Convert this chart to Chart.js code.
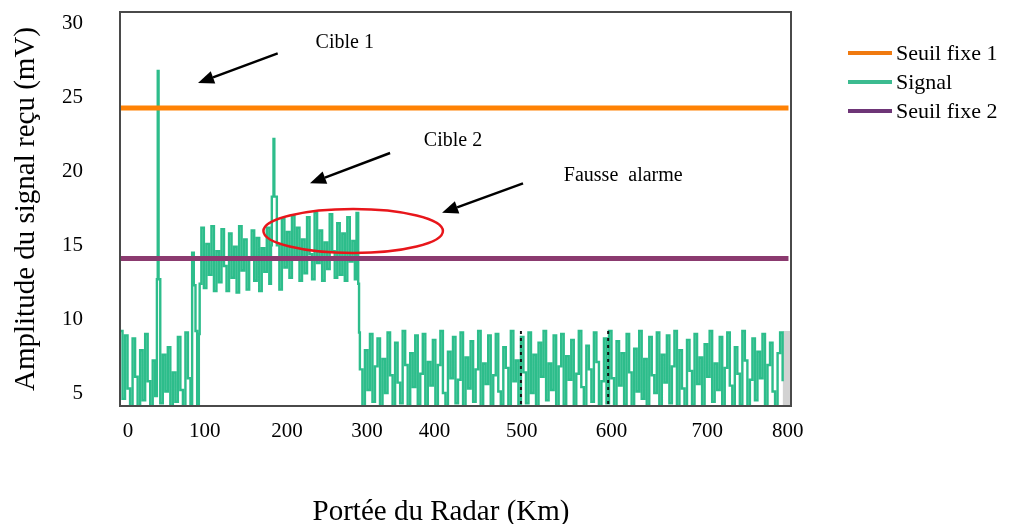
<!DOCTYPE html>
<html>
<head>
<meta charset="utf-8">
<script src="https://cdn.jsdelivr.net/npm/chart.js@4.4.0/dist/chart.umd.min.js"></script>
<style>
  html, body { margin: 0; padding: 0; background: #fff; }
</style>
</head>
<body>
<canvas id="radar" width="1012" height="524"></canvas>
<script>
// axis ticks (labels sit where the original figure put them)
const xTickLabels = ['0', '100', '200', '300', '400', '500', '600', '700', '800'];
const xTickAt = [9.5, 101, 199, 294.5, 375, 479, 586, 700, 796];
const yTicks = [5, 10, 15, 20, 25, 30];

// fixed thresholds
const thresholdKm = [0, 797];
const seuilFixe1 = [24.3, 24.3];
const seuilFixe2 = [14.1, 14.1];

// received signal (km, mV)
const rangeKm = [
  0, 3, 6, 9, 12, 15, 18, 21, 24, 27, 30, 33, 36, 39, 42, 44, 45, 46, 48, 51,
  54, 57, 60, 63, 66, 69, 72, 75, 78, 81, 84, 86, 88, 90, 92, 94, 95,
  97, 100, 103, 106, 109, 112, 115, 118, 121, 124, 127, 130, 133, 136, 139,
  142, 145, 148, 151, 154, 157, 160, 163, 166, 169, 172, 175, 178,
  180, 181, 183, 184, 187,
  190, 193, 196, 199, 202, 205, 208, 211, 214, 217, 220, 223, 226, 229, 232,
  235, 238, 241, 244, 247, 250, 253, 256, 259, 262, 265, 268, 271, 274, 277,
  280, 282, 284, 285,
  286, 289, 292, 295, 298, 301, 304, 307, 310, 313,
  316, 319, 322, 325, 328, 331, 334, 337, 340, 343,
  346, 349, 352, 355, 358, 361, 364, 367, 370, 373,
  376, 379, 382, 385, 388, 391, 394, 397, 400, 403,
  406, 409, 412, 415, 418, 421, 424, 427, 430, 433,
  436, 439, 442, 445, 448, 451, 454, 457, 460, 463,
  466, 469, 472, 475, 478, 481, 484, 487, 490, 493,
  496, 499, 502, 505, 508, 511, 514, 517, 520, 523,
  526, 529, 532, 535, 538, 541, 544, 547, 550, 553,
  556, 559, 562, 565, 568, 571, 574, 577, 580, 583,
  586, 589, 592, 595, 598, 601, 604, 607, 610, 613,
  616, 619, 622, 625, 628, 631, 634, 637, 640, 643,
  646, 649, 652, 655, 658, 661, 664, 667, 670, 673,
  676, 679, 682, 685, 688, 691, 694, 697, 700, 703,
  706, 709, 712, 715, 718, 721, 724, 727, 730, 733,
  736, 739, 742, 745, 748, 751, 754, 757, 760, 763,
  766, 769, 772, 775, 778, 781, 784, 787, 790
];
const signalMv = [
  9.2, 4.6, 8.9, 5.3, 4.1, 8.7, 6.1, 4.1, 7.9, 4.5, 9.0, 5.8, 4.1, 7.2, 4.8, 12.7, 26.8, 12.7, 4.3, 7.6,
  5.1, 8.1, 4.1, 6.4, 4.4, 8.8, 5.2, 4.1, 9.1, 6.0, 4.1, 14.5, 12.3, 9.2, 4.1, 9.0, 12.4,
  16.2, 12.1, 15.1, 13.0, 16.3, 11.9, 14.6, 12.5, 16.1, 13.6, 11.9, 15.8, 12.8, 14.9, 11.8,
  16.3, 13.3, 15.4, 12.0, 14.2, 16.0, 12.6, 15.5, 11.9, 14.8, 13.2, 16.2, 12.4,
  15.0, 18.3, 22.2, 18.3, 15.0,
  12.0, 16.8, 13.5, 15.9, 12.8, 17.0, 14.1, 16.2, 12.6, 15.4, 13.1, 16.9, 14.4, 12.7, 17.2,
  13.8, 16.0, 12.6, 15.2, 13.4, 17.1, 14.6, 12.8, 16.5, 13.0, 15.8, 12.6, 16.9, 13.9, 15.3,
  12.7, 17.2, 12.4, 9.1,
  6.6, 4.1, 7.9, 5.2, 9.0, 4.4, 6.8, 8.7, 4.1, 7.3,
  5.0, 9.1, 6.2, 4.1, 8.4, 5.7, 4.3, 9.2, 6.9, 4.1,
  7.7, 5.4, 8.9, 4.2, 6.3, 9.0, 4.1, 7.1, 5.5, 8.6,
  4.1, 6.9, 9.2, 5.0, 4.1, 7.8, 6.0, 8.8, 4.3, 5.9,
  9.1, 4.1, 7.4, 5.3, 8.5, 4.4, 6.6, 9.2, 4.1, 7.0,
  5.6, 8.9, 4.1, 6.2, 9.0, 5.1, 4.2, 8.1, 6.7, 4.1,
  9.2, 5.8, 7.2, 4.1, 8.8, 6.4, 4.3, 9.1, 5.0, 7.6,
  4.1, 8.4, 6.1, 9.2, 4.5, 7.0, 5.2, 8.9, 4.1, 6.8,
  9.0, 4.2, 7.5, 5.9, 8.6, 4.1, 6.3, 9.2, 5.4, 4.1,
  8.2, 6.6, 4.4, 9.1, 7.1, 4.1, 5.8, 8.7, 4.3, 9.2,
  6.0, 4.1, 8.5, 5.5, 7.7, 4.2, 9.0, 6.4, 4.1, 8.0,
  5.1, 9.2, 4.6, 7.3, 4.1, 8.8, 6.2, 5.0, 9.1, 4.1,
  7.6, 5.7, 8.9, 4.3, 6.8, 9.2, 4.1, 7.9, 5.3, 4.1,
  8.6, 6.5, 4.2, 9.0, 5.6, 7.4, 4.1, 8.3, 6.1, 9.2,
  4.4, 7.0, 5.2, 8.8, 4.1, 6.7, 9.1, 5.5, 4.1, 8.1,
  6.3, 4.2, 9.2, 7.2, 4.1, 5.9, 8.7, 4.5, 7.8, 6.0,
  9.0, 4.1, 6.9, 8.4, 5.1, 4.1, 7.7, 9.1, 5.8
];

// dotted marks and grey strip left in the scanned figure
const markKm = [478, 478, 478, 582, 582];
const markMv = [9.2, 4.1, null, 9.2, 4.1];
const stripKm = [790, 799];
const stripMv = [9.2, 9.2];

const pts = (xs, ys) => xs.map((x, i) => ({ x: x, y: ys[i] }));

// annotation text, arrows and circle, placed in data units
const notes = {
  labels: [
    { text: 'Cible 1', km: 268, mv: 28.7 },
    { text: 'Cible 2', km: 397, mv: 22.1 },
    { text: 'Fausse  alarme', km: 600, mv: 19.7 }
  ],
  arrows: [
    { from: [188, 28.0], to: [93, 26.0] },
    { from: [322, 21.25], to: [226.5, 19.2] },
    { from: [480.5, 19.2], to: [384, 17.2] }
  ],
  ellipse: { km: 278, mv: 15.97, rKm: 107, rMv: 1.49 }
};

const serif = "'Liberation Serif', 'Times New Roman', serif";
Chart.defaults.font.family = serif;
Chart.defaults.color = '#000';

const legendItems = [
  { text: 'Seuil fixe 1', color: '#f07a10' },
  { text: 'Signal', color: '#3cbb90' },
  { text: 'Seuil fixe 2', color: '#6e3577' }
];

const decorations = {
  id: 'decorations',
  afterDatasetsDraw(chart) {
    const { ctx, chartArea: a, scales: { x, y } } = chart;
    ctx.save();

    // red circle around false alarm
    const e = notes.ellipse;
    ctx.beginPath();
    ctx.ellipse(x.getPixelForValue(e.km), y.getPixelForValue(e.mv),
      x.getPixelForValue(e.km + e.rKm) - x.getPixelForValue(e.km),
      y.getPixelForValue(e.mv) - y.getPixelForValue(e.mv + e.rMv), 0, 0, Math.PI * 2);
    ctx.strokeStyle = '#e8161b';
    ctx.lineWidth = 2.5;
    ctx.stroke();

    // arrows
    ctx.strokeStyle = '#000';
    ctx.fillStyle = '#000';
    ctx.lineWidth = 2.5;
    notes.arrows.forEach(ar => {
      const x0 = x.getPixelForValue(ar.from[0]), y0 = y.getPixelForValue(ar.from[1]);
      const x1 = x.getPixelForValue(ar.to[0]), y1 = y.getPixelForValue(ar.to[1]);
      const ang = Math.atan2(y1 - y0, x1 - x0);
      const len = 16, half = 6.5;
      const bx = x1 - len * Math.cos(ang), by = y1 - len * Math.sin(ang);
      ctx.beginPath();
      ctx.moveTo(x0, y0);
      ctx.lineTo(bx, by);
      ctx.stroke();
      ctx.beginPath();
      ctx.moveTo(x1, y1);
      ctx.lineTo(bx + half * Math.sin(ang), by - half * Math.cos(ang));
      ctx.lineTo(bx - half * Math.sin(ang), by + half * Math.cos(ang));
      ctx.closePath();
      ctx.fill();
    });

    // labels
    ctx.font = '20px ' + serif;
    ctx.textAlign = 'center';
    ctx.textBaseline = 'middle';
    notes.labels.forEach(l => {
      ctx.fillText(l.text, x.getPixelForValue(l.km), y.getPixelForValue(l.mv));
    });

    // x axis title, set a little left of centre as in the original
    ctx.font = '29px ' + serif;
    ctx.fillText('Portée du Radar (Km)', a.left + 321, chart.height - 12);

    // plot frame
    ctx.strokeStyle = '#4a4a4a';
    ctx.lineWidth = 2;
    ctx.strokeRect(a.left, a.top, a.right - a.left, a.bottom - a.top);

    // legend
    ctx.font = '22px ' + serif;
    ctx.textAlign = 'left';
    legendItems.forEach((it, i) => {
      const ly = 53 + i * 29;
      ctx.beginPath();
      ctx.moveTo(a.right + 57, ly);
      ctx.lineTo(a.right + 101, ly);
      ctx.strokeStyle = it.color;
      ctx.lineWidth = 4;
      ctx.stroke();
      ctx.fillText(it.text, a.right + 105, ly + 1);
    });
    ctx.restore();
  }
};

new Chart('radar', {
  type: 'line',
  data: {
    datasets: [
      { label: 'Seuil fixe 1', data: pts(thresholdKm, seuilFixe1), borderColor: '#ff8204', borderWidth: 5, order: 0 },
      { label: 'Seuil fixe 2', data: pts(thresholdKm, seuilFixe2), borderColor: '#8b3a6f', borderWidth: 5, order: 0 },
      { label: 'Signal', data: pts(rangeKm, signalMv), borderColor: '#2dbd8b', borderWidth: 2.4, stepped: true, order: 1 },
      { label: 'marks', data: pts(markKm, markMv), borderColor: '#111', borderWidth: 2, borderDash: [3, 4], spanGaps: false, order: 0 },
      { label: 'strip', data: pts(stripKm, stripMv), borderWidth: 0, fill: 'start', backgroundColor: '#d2d2d2', order: 2 }
    ]
  },
  options: {
    responsive: false,
    animation: false,
    layout: { padding: { top: 12, right: 221, left: 0, bottom: 0 } },
    elements: { point: { radius: 0 }, line: { tension: 0 } },
    plugins: { legend: { display: false }, tooltip: { enabled: false } },
    scales: {
      x: {
        type: 'linear',
        min: 0,
        max: 800,
        afterFit: s => { s.height = 118; s.paddingLeft = 0; s.paddingRight = 0; },
        afterBuildTicks: s => { s.ticks = xTickAt.map(v => ({ value: v })); },
        grid: { display: false, drawTicks: false },
        border: { display: false },
        ticks: { autoSkip: false, maxRotation: 0, padding: 13, font: { size: 21 }, callback: (v, i) => xTickLabels[i] }
      },
      y: {
        min: 4.12,
        max: 30.8,
        afterFit: s => { s.width = 120; s.paddingTop = 0; s.paddingBottom = 0; },
        afterBuildTicks: s => { s.ticks = yTicks.map(v => ({ value: v })); },
        grid: { display: false, drawTicks: false },
        border: { display: false },
        ticks: { padding: 37, font: { size: 21 } },
        title: { display: true, text: 'Amplitude du signal reçu (mV)', font: { size: 29, lineHeight: 1 }, padding: { top: 12, bottom: 0 } }
      }
    }
  },
  plugins: [decorations]
});
</script>
</body>
</html>
